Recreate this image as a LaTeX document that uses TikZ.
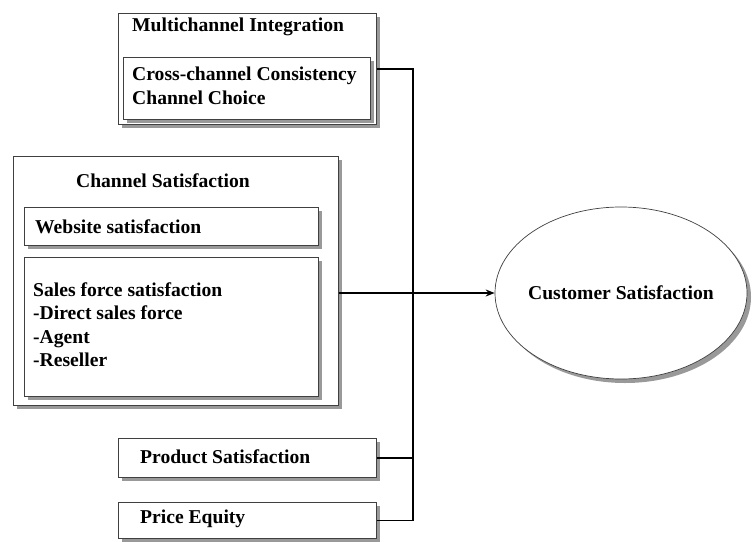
\documentclass[tikz,border=0pt]{standalone}
\usepackage{fontspec}
\setmainfont{Liberation Serif}
\usetikzlibrary{shadows,arrows.meta,shapes.geometric}
\begin{document}
\begin{tikzpicture}[x=1pt,y=-1pt,
  box/.style={draw=black!75, line width=0.7pt, fill=white, anchor=north west, inner sep=0pt,
    drop shadow={shadow xshift=4pt, shadow yshift=-4pt, fill=black!40, opacity=1}},
  lbl/.style={anchor=west, inner sep=0pt, font=\fontsize{19.6}{23.5}\selectfont\bfseries, align=left},
  conn/.style={draw=black, line width=1.5pt},
]
\useasboundingbox (0,0) rectangle (752,541);

% Multichannel integration group
\node[box, minimum width=258pt, minimum height=111pt] (mi) at (118,13) {};
\node[lbl] (mit) at (132,27) {Multichannel Integration};
\node[box, minimum width=247pt, minimum height=62pt] (mic) at (123,57) {};
\node[lbl, anchor=north west] (mict) at (132,67) {Cross-channel Consistency\\Channel Choice};

% Channel satisfaction group
\node[box, minimum width=325pt, minimum height=249pt] (cs) at (13,156) {};
\node[lbl, anchor=center] (cst) at (163,181) {Channel Satisfaction};
\node[box, minimum width=294pt, minimum height=38pt] (web) at (24,207) {};
\node[lbl] (webt) at (35,227) {Website satisfaction};
\node[box, minimum width=294pt, minimum height=139pt] (sales) at (24,257) {};
\node[lbl, anchor=north west] (salest) at (33,282) {Sales force satisfaction\\-Direct sales force\\-Agent\\-Reseller};

% Product and price
\node[box, minimum width=258pt, minimum height=39pt] (prod) at (118,438) {};
\node[lbl] (prodt) at (140,457) {Product Satisfaction};
\node[box, minimum width=258pt, minimum height=36pt] (price) at (118,502) {};
\node[lbl] (pricet) at (140,519) {Price Equity};

% Outcome
\node[ellipse, draw=black!75, line width=0.7pt, fill=white, inner sep=0pt,
  minimum width=252pt, minimum height=172pt,
  drop shadow={shadow xshift=4pt, shadow yshift=-4pt, fill=black!40, opacity=1}] (cust) at (621,293) {};
\node[lbl, anchor=center] (custt) at (cust.center) {Customer Satisfaction};

% Connectors
\coordinate (bus) at (413,0);
\draw[conn] (mi.east) -- (mi.east -| bus) -- (price.east -| bus) -- (price.east);
\draw[conn] (prod.east) -- (prod.east -| bus);
\draw[conn, -{Stealth[length=9pt,width=7pt]}] (cs.east |- cust.west) -- (cust.west);
\end{tikzpicture}
\end{document}
